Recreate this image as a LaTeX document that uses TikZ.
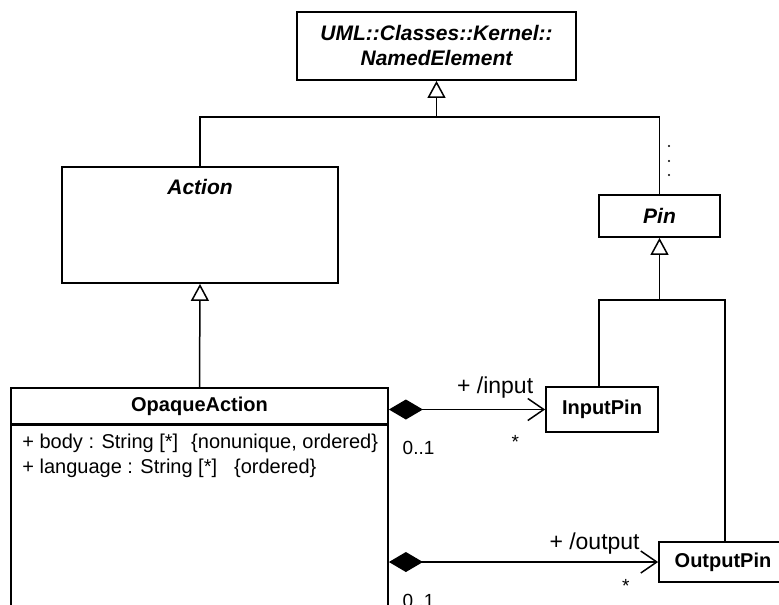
\documentclass[tikz,border=0pt]{standalone}
\usepackage{fontspec}
\setmainfont{Liberation Sans}
\usetikzlibrary{arrows.meta,shadows,positioning}

\begin{document}
\begin{tikzpicture}[
  x=0.5pt, y=-0.5pt,
  font=\fontsize{10}{12.5}\selectfont,
  cls/.style={draw, line width=0.9pt, fill=white, inner sep=2pt,
    drop shadow={shadow xshift=0.7pt, shadow yshift=-0.7pt, opacity=0.3}},
  abs/.style={font=\fontsize{10.5}{12.5}\selectfont\bfseries\itshape},
  conn/.style={line width=0.75pt},
  gen/.style={conn, -{Triangle[open, length=8.5pt, width=9pt]}},
  comp/.style={conn, {Diamond[length=17pt, width=10pt]}-{Straight Barb[length=8pt, width=11pt]}},
  role/.style={font=\fontsize{11.5}{13}\selectfont, anchor=base, inner sep=0pt},
  mult/.style={font=\fontsize{9.5}{11}\selectfont, anchor=base, inner sep=0pt}
]
\clip (0,0) rectangle (779,604);
\fill[white] (0,0) rectangle (779,604);

% classes
\node[cls, abs, align=center, minimum width=139.5pt, minimum height=34pt] (named) at (436.5,46)
  {UML::Classes::Kernel::\\NamedElement};
\node[cls, minimum width=138pt, minimum height=58pt,
  label={[abs, anchor=base, yshift=-14.25pt]north:Action}] (action) at (200,225) {};
\node[cls, abs, minimum width=60.5pt, minimum height=21pt] (pin) at (659.5,216) {Pin};

\node[cls, minimum width=188.5pt, minimum height=98pt, anchor=north] (opqbody) at (199.5,424) {};
\node[cls, font=\bfseries, minimum width=188.5pt, minimum height=18pt] (opqhead) at (199.5,406)
  {OpaqueAction};
\node[anchor=north west, align=left, inner sep=0pt] (opqattr) at (22,434)
  {+ body : String [*]\hspace{6.5pt}\{nonunique, ordered\}\\
   + language : String [*]\hspace{8.5pt}\{ordered\}};

\node[cls, font=\bfseries, minimum width=56pt, minimum height=22.5pt] (inpin) at (602,409.5) {InputPin};
\node[cls, font=\bfseries, minimum width=64pt, minimum height=20pt] (outpin) at (723,562) {OutputPin};

% generalizations
\coordinate (g1) at (436.5,117);
\coordinate (g2) at (659.5,300);
\draw[gen] (action.north) |- (g1) -- (named.south);
\draw[conn] (pin.north) |- (g1);
\foreach \y in {146,161,175} \fill (669,\y) circle (0.6pt);
\draw[gen] (opqhead.north) -- (action.south);
\draw[gen] ([xshift=-1.5pt]inpin.north) |- (g2) -- (pin.south);
\draw[conn] ([xshift=1pt]outpin.north) |- (g2);

% compositions
\draw[comp] (opqhead.east |- inpin.west) -- (inpin.west)
  node[role, pos=0.68, yshift=8pt] {+ /input}
  node[mult, pos=0.19, yshift=-22.5pt] {0..1}
  node[mult, pos=0.81, yshift=-19.5pt] {*};
\draw[comp] (opqbody.east |- outpin.west) -- (outpin.west)
  node[role, pos=0.764, yshift=6.5pt] {+ /output}
  node[mult, pos=0.11, yshift=-22.5pt] {0..1}
  node[mult, pos=0.88, yshift=-15pt] {*};
\end{tikzpicture}
\end{document}
